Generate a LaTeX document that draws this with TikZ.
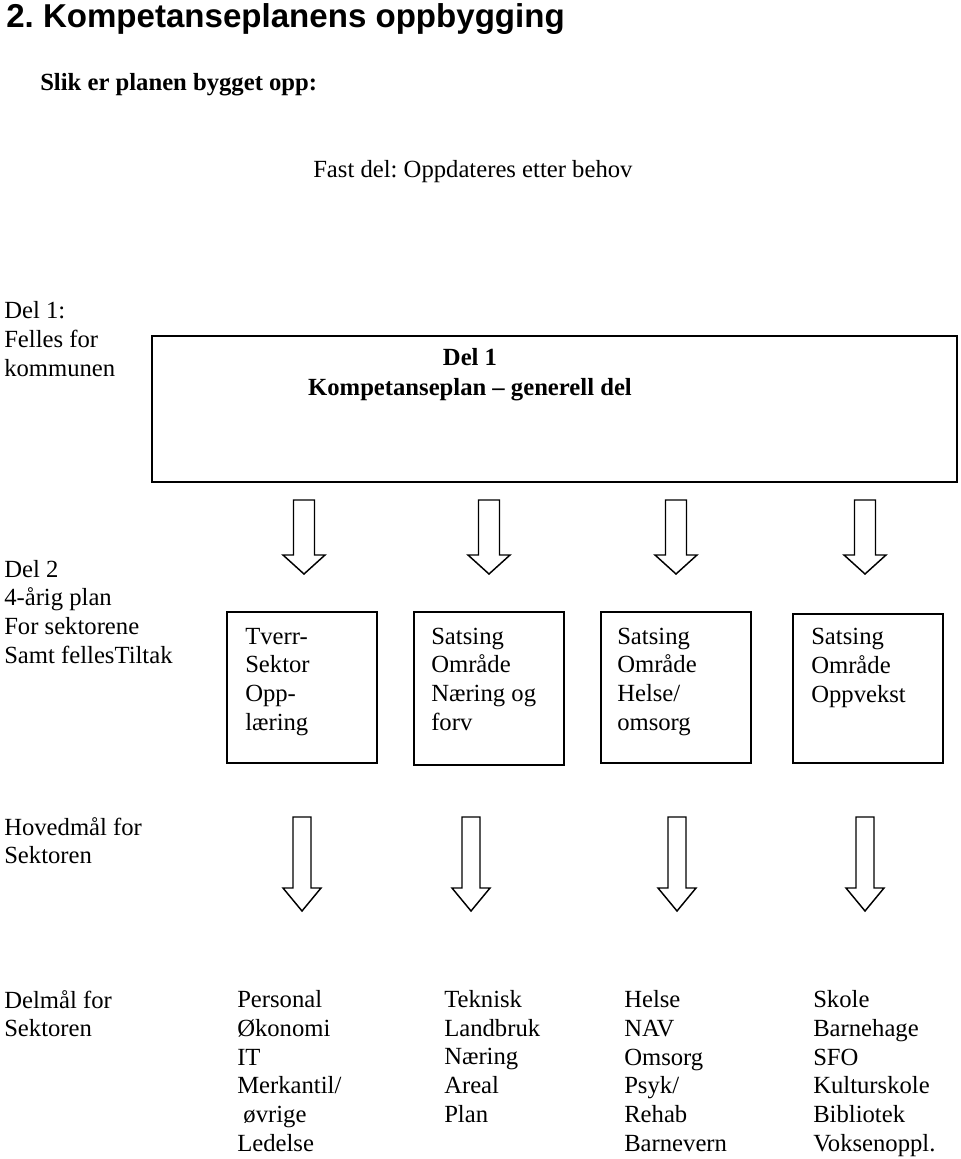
\documentclass[tikz,border=0pt]{standalone}
\usepackage{fontspec}
\setmainfont{Liberation Serif}
\newfontfamily\arialfont{Liberation Sans}
\usetikzlibrary{fit}
\frenchspacing
\begin{document}
\begin{tikzpicture}[x=0.75pt,y=-0.75pt,
  txt/.style={anchor=base west,inner sep=0pt,align=left,font=\fontsize{18.5}{21.5}\selectfont},
  boxline/.style={draw,line width=1.4pt,inner sep=0pt},
  arrowline/.style={draw,line width=1.1pt,fill=white,line join=miter},
  pics/blockarrow/.style args={#1/#2/#3/#4}{code={
    \path[arrowline] (-#1/2,0) -- (#1/2,0) -- (#1/2,#3) -- (#2/2,#3) -- (0,#4)
      -- (-#2/2,#3) -- (-#1/2,#3) -- cycle;}}]
\useasboundingbox (0,0) rectangle (960,1159);

% title (base anchor = baseline of last line)
\node[anchor=base west,inner sep=0pt,font=\arialfont\bfseries\fontsize{24.8}{28}\selectfont] (title) at (6,28) {2. Kompetanseplanens oppbygging};
\node[txt,font=\bfseries\fontsize{18.5}{21.5}\selectfont] (slik) at (40,91) {Slik er planen bygget opp:};
\node[txt] (fast) at (313,177) {Fast del: Oppdateres etter behov};

% left labels
\node[txt] (del1lab) at (4,376.3) {Del 1:\\Felles for\\kommunen};
\node[txt] (del2lab) at (4,663) {Del 2\\4-årig plan\\For sektorene\\Samt fellesTiltak};
\node[txt] (hovlab) at (4,863.7) {Hovedmål for\\Sektoren};
\node[txt] (dellab) at (4,1036.7) {Delmål for\\Sektoren};

% big box
\node[boxline,fit={(152,336) (957,482)}] (big) {};
\node[anchor=base,inner sep=0pt,align=center,font=\bfseries\fontsize{18.5}{22.5}\selectfont] (bigtxt) at (470,395) {Del 1\\Kompetanseplan – generell del};

% row 1 arrows
\pic (a1) at (304,500) {blockarrow={21/42/55/74}};
\pic (a2) at (489,500) {blockarrow={21/42/55/74}};
\pic (a3) at (676,500) {blockarrow={21/42/55/74}};
\pic (a4) at (865,500) {blockarrow={21/42/55/74}};

% boxes
\node[boxline,fit={(227,612) (377,763)}] (b1) {};
\node[boxline,fit={(414,612) (564,765)}] (b2) {};
\node[boxline,fit={(601,612) (751,763)}] (b3) {};
\node[boxline,fit={(793,614) (943,763)}] (b4) {};
\node[txt] (t1) at (245,730) {Tverr-\\Sektor\\Opp-\\læring};
\node[txt] (t2) at (431,730) {Satsing\\Område\\Næring og\\forv};
\node[txt] (t3) at (617,730) {Satsing\\Område\\Helse/\\omsorg};
\node[txt] (t4) at (811,702.3) {Satsing\\Område\\Oppvekst};

% row 2 arrows
\pic (c1) at (302,817) {blockarrow={18/38/71/94}};
\pic (c2) at (471,817) {blockarrow={18/38/71/94}};
\pic (c3) at (677,817) {blockarrow={18/38/71/94}};
\pic (c4) at (865,817) {blockarrow={18/38/71/94}};

% delmål columns
\node[txt] (d1) at (237,1151) {Personal\\Økonomi\\IT\\Merkantil/\\\ øvrige\\Ledelse};
\node[txt] (d2) at (444,1122.3) {Teknisk\\Landbruk\\Næring\\Areal\\Plan};
\node[txt] (d3) at (624,1151) {Helse\\NAV\\Omsorg\\Psyk/\\Rehab\\Barnevern};
\node[txt] (d4) at (813,1151) {Skole\\Barnehage\\SFO\\Kulturskole\\Bibliotek\\Voksenoppl.};
\end{tikzpicture}
\end{document}
